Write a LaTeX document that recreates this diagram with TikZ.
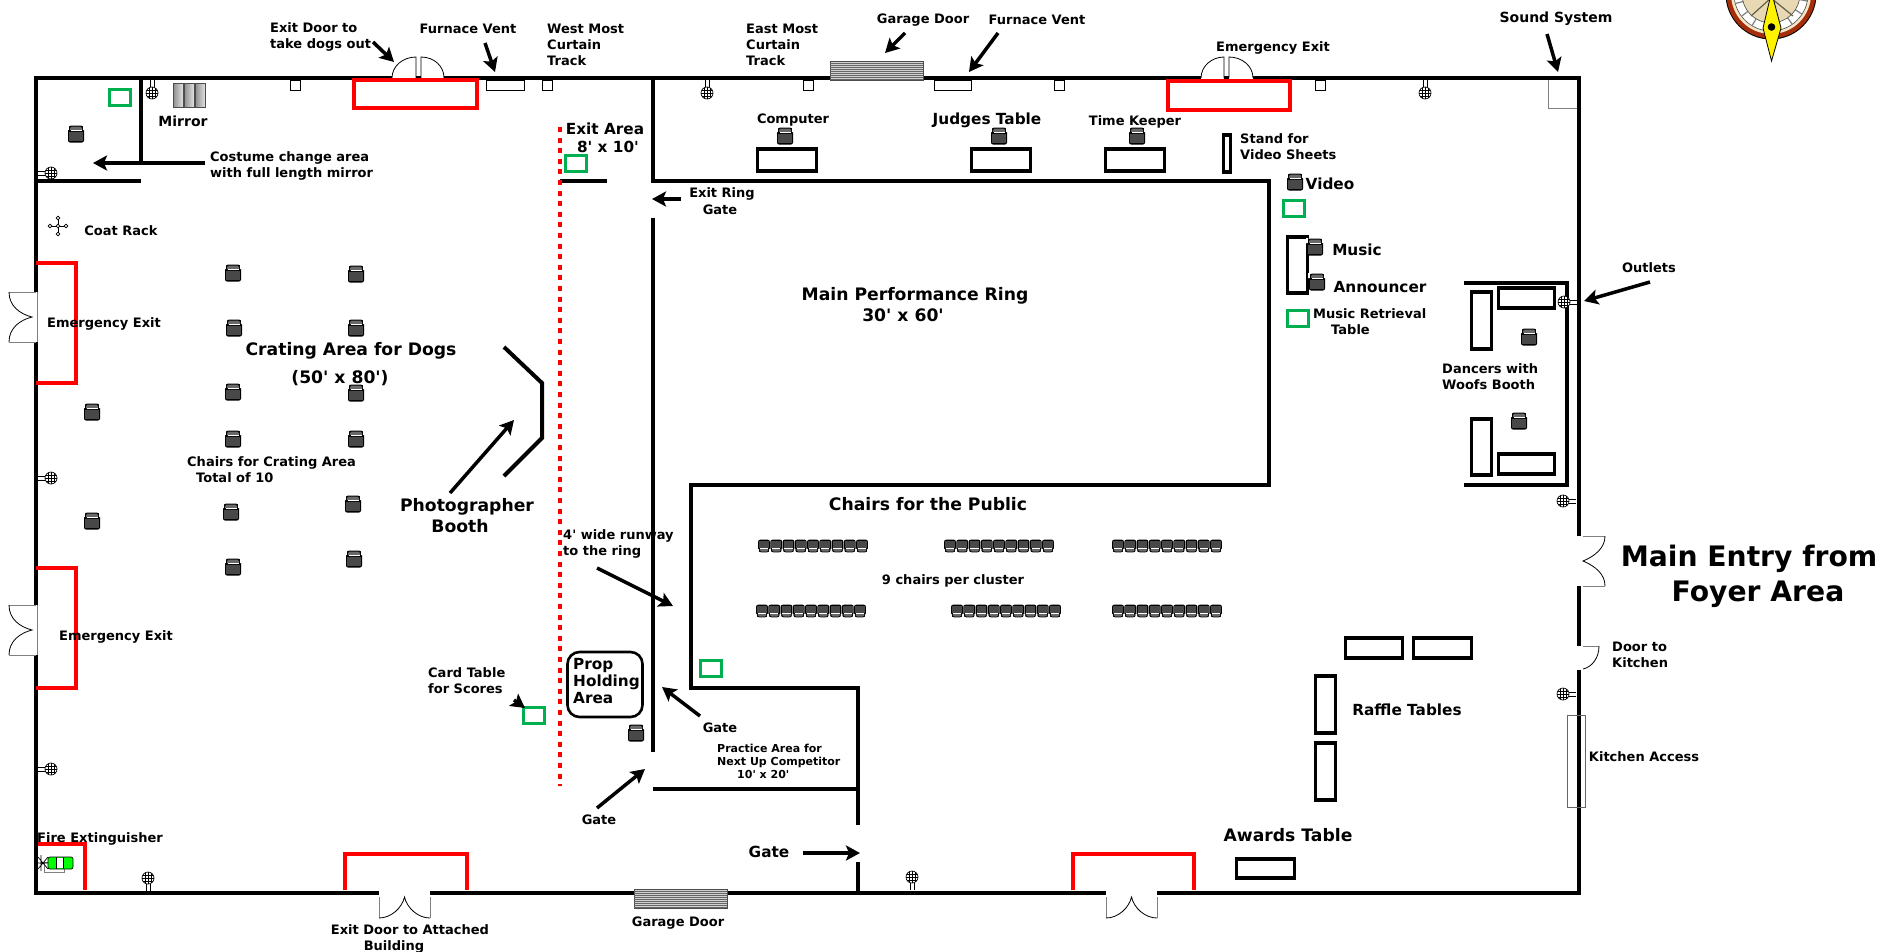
\documentclass[tikz,border=0pt]{standalone}
\usepackage{fontspec}
\setmainfont{DejaVu Sans}[Ligatures=TeXOff]
\usepackage{tikz,graphics}
\usetikzlibrary{arrows.meta}
\definecolor{redwall}{RGB}{255,0,0}
\definecolor{tablegreen}{RGB}{0,176,80}
\definecolor{seatgray}{RGB}{72,72,72}
\definecolor{backgray}{RGB}{105,105,105}
\definecolor{compassred}{RGB}{165,45,10}
\definecolor{compasscream}{RGB}{245,230,200}
\definecolor{compasstan}{RGB}{232,216,180}
\tikzset{
  wall/.style={line width=4.5pt,black},
  partition/.style={line width=4pt,black},
  exitzone/.style={line width=4pt,redwall},
  cardbox/.style={line width=3.4pt,draw=tablegreen},
  tablebox/.style={line width=3.6pt,draw=black,fill=white},
  thinbox/.style={line width=.7pt,draw=black,fill=white},
  swing/.style={line width=.8pt,black},
  leaf/.style={line width=1pt,gray},
  pointer/.style={line width=3.5pt,-{Stealth[length=14pt,width=15pt,inset=3pt]},black},
  lab/.style={font=\fontsize{13}{16}\selectfont\bfseries,inner sep=0pt,align=left,yshift=-1pt},
  labn/.style={lab,font=\fontsize{14}{17}\selectfont\bfseries},
  labm/.style={lab,font=\fontsize{15.3}{17}\selectfont\bfseries,yshift=0pt},
  labl/.style={lab,font=\fontsize{17.2}{20}\selectfont\bfseries,yshift=-1pt},
  labs/.style={lab,font=\fontsize{11}{13}\selectfont\bfseries},
  chair/.pic={
    \fill[black,rounded corners=2pt] (-8,-8) rectangle (8,8.5);
    \fill[white] (-9,-9) rectangle (-7,-4) (7,-9) rectangle (9,-4);
    \fill[black,rounded corners=2pt] (-6.8,-8.5) rectangle (6.8,-2);
    \fill[backgray,rounded corners=1.5pt] (-6,-7.5) rectangle (6,-3);
    \fill[white] (-5.5,-3.6) rectangle (5.5,-2.6);
    \fill[seatgray] (-6.6,-2.2) rectangle (6.6,7);
  },
  outlet/.pic={
    \draw[line width=.7pt,fill=white] (0,0) circle (6);
    \draw[line width=.6pt] (-6,0) -- (6,0) (0,-6) -- (0,6) (-3,-5) -- (-3,5) (3,-5) -- (3,5) (-5,-3) -- (5,-3) (-5,3) -- (5,3);
    \draw[line width=.7pt] (-2,-6) -- (-2,-13) (2,-6) -- (2,-13);
  }
}
\begin{document}
\begin{tikzpicture}[x=1pt,y=-1pt]
    \useasboundingbox (0,0) rectangle (1881,951);
    % compass, cut by the page
    \fill[black] (1771,-6) circle (45.5);
    \fill[compassred] (1771,-6) circle (44.5);
    \fill[compasscream] (1771,-6) circle (40);
    \filldraw[line width=.6pt,fill=white,draw=black!70] (1771,-6) circle (37);
    \foreach \a in {11,33,...,169} \draw[line width=1.2pt,gray] (1771,-6) ++(\a:29) -- ++(\a:8);
    \filldraw[line width=.6pt,fill=compasstan,draw=black!70] (1771,-6) circle (29);
    \draw[line width=1.2pt,black!70!yellow] (1771,-2) -- (1751,16) (1771,-2) -- (1793,16);
    \filldraw[line width=.8pt,fill=yellow,draw=black] (1771.5,-8) -- (1781,28) -- (1771.5,61) -- (1763,28) -- cycle;
    \fill[black] (1771.5,27) circle (3.8);
    % outer walls
    \draw[wall] (36,292) -- (36,78) -- (392,78) (444,78) -- (1201,78) (1253,78) -- (1579,78) -- (1579,536);
    \draw[wall] (36,342) -- (36,605) (36,655) -- (36,893) -- (379,893) (430,893) -- (1106,893) (1157,893) -- (1579,893) -- (1579,670);
    \draw[wall] (1579,586) -- (1579,646);
    \draw[wall] (416,78) -- (421,78) (1224,78) -- (1229,78);
    % inner walls
    \draw[partition] (141,78) -- (141,163);
    \draw[partition] (36,181) -- (141,181) (560,181) -- (607,181);
    \draw[partition] (653,78) -- (653,181) -- (1269,181) -- (1269,485) -- (691,485) -- (691,688) -- (858,688) -- (858,825);
    \draw[partition] (858,862) -- (858,893);
    \draw[partition] (653,218) -- (653,752) (653,789) -- (858,789);
    \draw[partition] (504,347) -- (542,383) -- (542,438) -- (504,476);
    \draw[partition] (1464,283) -- (1567,283) -- (1567,485) -- (1464,485);
    % roped zones
    \draw[exitzone] (354,80) rectangle (477,108);
    \draw[exitzone] (1168,81) rectangle (1290,110);
    \draw[exitzone] (36,263) -- (76,263) -- (76,383) -- (36,383);
    \draw[exitzone] (36,568) -- (76,568) -- (76,688) -- (36,688);
    \draw[exitzone] (38,844) -- (85,844) -- (85,890);
    \draw[exitzone] (345,890) -- (345,854) -- (467,854) -- (467,890);
    \draw[exitzone] (1073,890) -- (1073,854) -- (1194,854) -- (1194,890);
    \draw[line width=4pt,redwall,dash pattern=on 5pt off 5.6pt] (560,127) -- (560,786);
    % doors
    \draw[swing] (392,78) .. controls (392,66) and (403,57) .. (416,57) -- (416,78);
    \draw[swing] (421,78) -- (421,57) .. controls (434,57) and (444,66) .. (444,78);
    \draw[swing] (1201,78) .. controls (1201,66) and (1212,57) .. (1224,57) -- (1224,78);
    \draw[swing] (1229,78) -- (1229,57) .. controls (1242,57) and (1253,66) .. (1253,78);
    \foreach \y in {292,605} {
      \draw[leaf,line width=.7pt] (37,\y) -- (37,\y+50);
      \draw[leaf] (36,\y) -- (9,\y) (36,\y+50) -- (9,\y+50);
      \draw[swing] (9,\y) .. controls (9,\y+14) and (20,\y+22) .. (32,\y+25) .. controls (20,\y+28) and (9,\y+36) .. (9,\y+50);
    }
    \draw[leaf] (1583,536) -- (1605,536) (1583,586) -- (1605,586) (1583,646) -- (1599,646);
    \draw[swing] (1605,536) .. controls (1605,548) and (1595,556) .. (1583,561) .. controls (1595,566) and (1605,574) .. (1605,586);
    \draw[swing] (1599,646) .. controls (1599,658) and (1592,667) .. (1583,669);
    \foreach \x in {379,1106} {
      \draw[swing,gray] (\x,897) -- (\x,918) (\x+51,897) -- (\x+51,918);
      \draw[swing] (\x,918) .. controls (\x+12,918) and (\x+23,908) .. (\x+25.5,897) .. controls (\x+28,908) and (\x+39,918) .. (\x+51,918);
    }
    % garage doors
    \foreach \x/\y in {830/61,634/889} {
      \fill[gray!35] (\x,\y) rectangle (\x+93,\y+19);
      \draw[line width=.6pt,black!70] (\x,\y) rectangle (\x+93,\y+19);
      \foreach \k in {2,4,...,18} \draw[line width=1pt,black!60] (\x,\y+\k) -- (\x+93,\y+\k);
    }
    % curtain tracks and vents
    \foreach \x in {290,542,803,1054,1315} \draw[thinbox] (\x,80) rectangle (\x+10,90);
    \draw[thinbox] (486,80) rectangle (524,90);
    \draw[thinbox] (934,80) rectangle (971,90);
    \draw[line width=.8pt,gray] (1548,80) -- (1548,108) -- (1577,108);
    \draw[line width=.7pt,gray!80!black] (1567,715) rectangle (1585,807);
    % mirror, rack
    \foreach \x in {173,184,195}
      \draw[line width=.8pt,draw=black!70,left color=gray!90,right color=gray!20] (\x,83) rectangle (\x+10.5,107);
    \draw[line width=.8pt] (58,216) -- (58,236) (48,226) -- (68,226);
    \foreach \x/\y in {58/218,58/234,50/226,66/226,58/226} \draw[line width=.7pt,fill=white] (\x,\y) circle (1.8);
    % tables
    \foreach \xa/\ya/\xb/\yb in {756/148/818/172,970/148/1032/172,1104/148/1166/172,1222/134/1232/173,1286/236/1309/294,1344/637/1404/659,1412/637/1473/659,1314/675/1337/734,1314/742/1337/801,1235/858/1296/879,1497/287/1556/309,1470/291/1493/350,1470/418/1493/476,1497/453/1556/475}
      \draw[tablebox] (\xa+1.5,\ya+1.2) rectangle (\xb-1.5,\yb-1.2);
    \foreach \xa/\ya in {110/90,566/156,1284/201,1288/311,701/661,524/708}
      \draw[cardbox] (\xa-.5,\ya-.5) rectangle (\xa+20.5,\ya+15.5);
    \draw[line width=2.6pt,rounded corners=12pt] (567.5,652) rectangle (642.5,717);
    % chairs
    \foreach \x/\y in {76/134,233/273,356/274,234/328,356/328,233/392,356/393,233/439,356/439,92/412,92/521,231/512,353/504,233/567,354/559,785/136,999/136,1137/136,1295/182,1315/247,1317/282,1529/337,1519/421,636/733}
      \pic at (\x,\y) {chair};
    \foreach \xs/\y in {764/546,950/546,1118/546,762/611,957/611,1118/611}
      \foreach \k in {0,...,8}
        \pic[xscale=.74,yscale=-.74] at (\xs+\k*12.25,\y) {chair};
    % outlets
    \foreach \x/\y/\r in {152/93/0,707/93/0,1425/93/0,51/173/90,51/478/90,51/769/90,1564/302/-90,1563/501/-90,1563/694/-90,148/878/180,912/877/180}
      \pic[rotate=\r] at (\x,\y) {outlet};
    % extinguisher
    \draw[line width=.7pt,gray] (44,862) rectangle (64,872);
    \draw[line width=.7pt] (38,857) -- (48,869) (38,869) -- (48,857) (38,863) -- (48,863) (41,855) -- (41,871);
    \draw[line width=.7pt,fill=green,rounded corners=2pt] (48,857) rectangle (73,869);
    \fill[white] (56,858) rectangle (63,868);
    \draw[line width=.6pt] (56,857) -- (56,869) (63,857) -- (63,869);
    % pointers
    \coordinate (p1) at (373,42); \coordinate (q1) at (394,62);
    \coordinate (p2) at (485,43); \coordinate (q2) at (495,72);
    \coordinate (p3) at (905,33); \coordinate (q3) at (885,53);
    \coordinate (p4) at (998,33); \coordinate (q4) at (969,72);
    \coordinate (p5) at (1547,34); \coordinate (q5) at (1558,72);
    \coordinate (p6) at (1650,282); \coordinate (q6) at (1584,301);
    \coordinate (p7) at (205,163); \coordinate (q7) at (93,163);
    \coordinate (p8) at (681,199); \coordinate (q8) at (652,199);
    \coordinate (p9) at (450,493); \coordinate (q9) at (514,420);
    \coordinate (p10) at (597,568); \coordinate (q10) at (673,606);
    \coordinate (p11) at (514,700); \coordinate (q11) at (525,708);
    \coordinate (p12) at (700,716); \coordinate (q12) at (662,687);
    \coordinate (p13) at (597,808); \coordinate (q13) at (645,769);
    \coordinate (p14) at (803,853); \coordinate (q14) at (860,853);
    \foreach \i in {1,...,14} \draw [pointer] (p\i) to (q\i);
    % labels
    \node[lab,anchor=west] (exitdogs) at (270,36) {Exit Door to\\take dogs out};
    \node[lab] (ventw) at (468,28) {Furnace Vent};
    \node[lab,anchor=west] (trackw) at (547,44) {West Most\\Curtain\\Track};
    \node[lab,anchor=west] (tracke) at (746,44) {East Most\\Curtain\\Track};
    \node[lab] (garaget) at (923,19) {Garage Door};
    \node[lab] (vente) at (1037,19) {Furnace Vent};
    \node[lab] (emerg) at (1273,47) {Emergency Exit};
    \node[labn] (sound) at (1556,18) {Sound System};
    \node[labn] (mirror) at (183,120) {Mirror};
    \node[labm] (exitarea) at (605,128) {Exit Area};
    \node[labm] (exitsize) at (608,146) {8' x 10'};
    \node[lab,anchor=west] (costume) at (210,165) {Costume change area\\with full length mirror};
    \node[lab] (rack) at (121,230) {Coat Rack};
    \node[lab] (emergl) at (104,323) {Emergency Exit};
    \node[lab] (emergm) at (116,636) {Emergency Exit};
    \node[lab] (exitring) at (722,193) {Exit Ring};
    \node[lab] (exitgate) at (720,209) {Gate};
    \node[labl] (crating) at (351,349) {Crating Area for Dogs};
    \node[labl] (cratsize) at (340,376) {(50' x 80')};
    \node[lab,anchor=west] (cratch) at (187,469) {Chairs for Crating Area\\\hspace*{9pt}Total of 10};
    \node[labl] (photo) at (467,505) {Photographer};
    \node[labl] (booth) at (460,524) {Booth};
    \node[lab,anchor=west] (runway) at (563,543) {4' wide runway\\to the ring};
    \node[labm,anchor=west] (prop) at (573,680) {Prop\\Holding\\Area};
    \node[lab,anchor=west] (card) at (428,680) {Card Table\\for Scores};
    \node[lab] (gatep) at (720,727) {Gate};
    \node[labs,anchor=west] (practice) at (717,760) {Practice Area for\\Next Up Competitor\\\hspace*{20pt}10' x 20'};
    \node[lab] (gatel) at (599,819) {Gate};
    \node[labm] (gateb) at (769,851) {Gate};
    \node[lab] (fire) at (100,838) {Fire Extinguisher};
    \node[lab] (exitb) at (410,929) {Exit Door to Attached};
    \node[lab] (exitb2) at (394,946) {Building};
    \node[lab] (garageb) at (678,922) {Garage Door};
    \node[lab] (computer) at (793,119) {Computer};
    \node[labm] (judges) at (987,119) {Judges Table};
    \node[lab] (timek) at (1135,121) {Time Keeper};
    \node[lab,anchor=west] (stand) at (1240,146) {Stand for\\Video Sheets};
    \node[labm] (video) at (1330,183) {Video};
    \node[labm] (music) at (1357,249) {Music};
    \node[labm] (announcer) at (1380,286) {Announcer};
    \node[lab,anchor=west] (retrieval) at (1313,321) {Music Retrieval\\\hspace*{18pt}Table};
    \node[lab] (outlets) at (1649,267) {Outlets};
    \node[labl] (ring) at (915,294) {Main Performance Ring};
    \node[labl] (ringsize) at (903,313) {30' x 60'};
    \node[labl] (public) at (928,502) {Chairs for the Public};
    \node[lab] (cluster) at (953,580) {9 chairs per cluster};
    \node[lab,anchor=west] (dancers) at (1442,376) {Dancers with\\Woofs Booth};
    \node[lab,font=\fontsize{28.2}{34}\selectfont\bfseries,yshift=-2pt] (entry) at (1749,556) {Main Entry from};
    \node[lab,font=\fontsize{28.2}{34}\selectfont\bfseries,yshift=-2pt] (foyer) at (1758,591) {Foyer Area};
    \node[lab,anchor=west] (kitchen) at (1612,654) {Door to\\Kitchen};
    \node[lab] (access) at (1644,756) {Kitchen Access};
    \node[labm] (raffle) at (1407,709) {Raffle Tables};
    \node[labl] (awards) at (1288,833) {Awards Table};
  \end{tikzpicture}
\end{document}
